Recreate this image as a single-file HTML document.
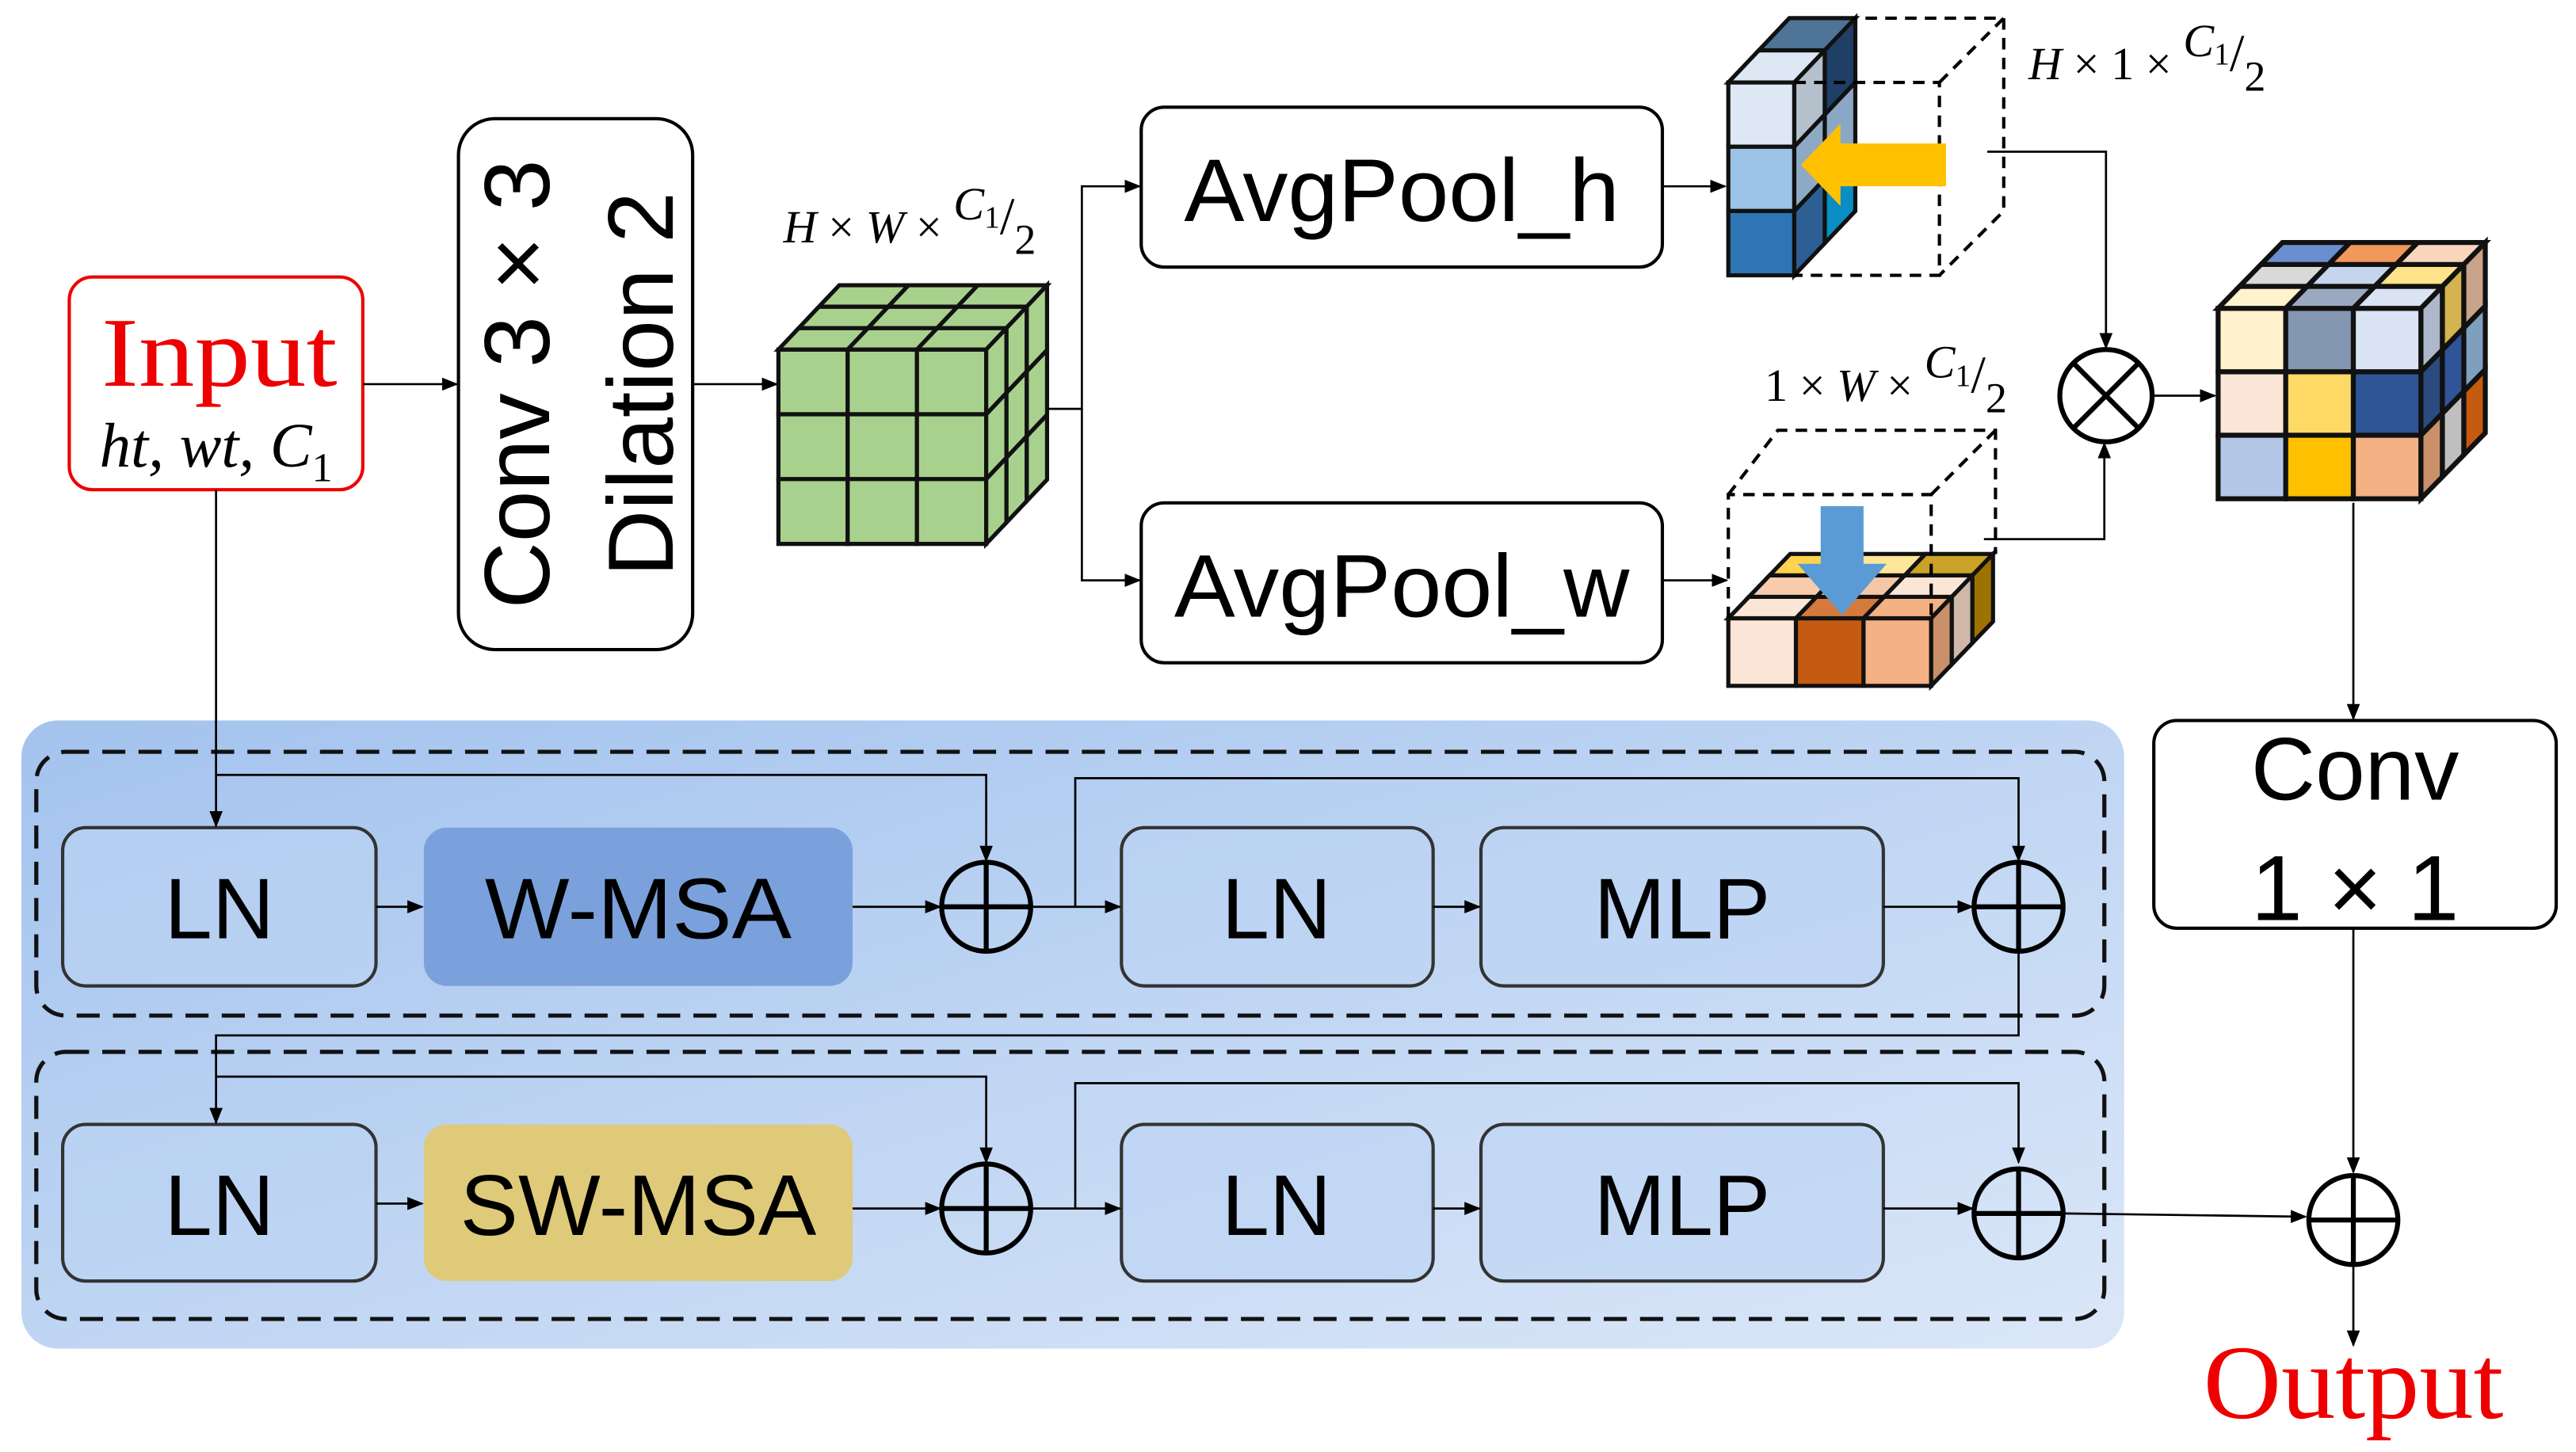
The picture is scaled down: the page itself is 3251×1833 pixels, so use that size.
<!DOCTYPE html>
<html><head><meta charset="utf-8"><style>
html,body{margin:0;padding:0;background:#fff}
svg{display:block}
.t{font-family:"Liberation Sans",sans-serif;fill:#000}
.m{font-family:"Liberation Serif",serif;fill:#000}
</style></head><body>
<svg id="s" width="3251" height="1833" viewBox="0 0 1562 880.7" xmlns="http://www.w3.org/2000/svg">
<defs>
<linearGradient id="pg" x1="0" y1="0" x2="1" y2="1">
<stop offset="0" stop-color="#a3c3ee"/><stop offset="1" stop-color="#dbe7f8"/>
</linearGradient>
<marker id="a" markerWidth="10" markerHeight="10" refX="9" refY="5" orient="auto" markerUnits="userSpaceOnUse">
<path d="M0,1 L10,5 L0,9 z" fill="#000"/></marker>
</defs>
<rect x="13" y="437" width="1275" height="381" rx="22" fill="url(#pg)"/>
<rect x="22" y="456" width="1254" height="160" rx="18" fill="none" stroke="#111" stroke-width="2.5" stroke-dasharray="14,8"/>
<rect x="22" y="638" width="1254" height="162" rx="18" fill="none" stroke="#111" stroke-width="2.5" stroke-dasharray="14,8"/>

<g stroke="#333" stroke-width="2" fill="#bcd3f3" fill-opacity="0.6">
<rect x="38" y="502" width="190" height="96" rx="14"/>
<rect x="680" y="502" width="189" height="96" rx="14"/>
<rect x="898" y="502" width="244" height="96" rx="14"/>
<rect x="38" y="682" width="190" height="95" rx="14"/>
<rect x="680" y="682" width="189" height="95" rx="14"/>
<rect x="898" y="682" width="244" height="95" rx="14"/>
</g>
<rect x="257" y="502" width="260" height="96" rx="14" fill="#7ba1dc"/>
<rect x="257" y="682" width="260" height="95" rx="14" fill="#dfca7a"/>
<g class="t" font-size="52" text-anchor="middle">
<text x="133" y="569">LN</text><text x="387" y="569" textLength="186" lengthAdjust="spacingAndGlyphs">W-MSA</text>
<text x="774" y="569">LN</text><text x="1020" y="569">MLP</text>
<text x="133" y="749">LN</text><text x="387" y="749" textLength="216" lengthAdjust="spacingAndGlyphs">SW-MSA</text>
<text x="774" y="749">LN</text><text x="1020" y="749">MLP</text>
</g>

<rect x="42" y="168" width="178" height="129" rx="14" fill="#fff" stroke="#e00" stroke-width="2"/>
<text class="m" x="133" y="234" font-size="60" text-anchor="middle" textLength="143" lengthAdjust="spacingAndGlyphs" style="fill:#e00">Input</text>
<text class="m" x="131" y="283" font-size="38" font-style="italic" text-anchor="middle">ht, wt, C<tspan font-style="normal" font-size="25" dy="9">1</tspan></text>

<rect x="278" y="72" width="142" height="322" rx="22" fill="#fff" stroke="#000" stroke-width="2"/>
<text class="t" font-size="56" text-anchor="middle" transform="translate(333,233) rotate(-90)">Conv 3 × 3</text>
<text class="t" font-size="56" text-anchor="middle" transform="translate(408,233) rotate(-90)">Dilation 2</text>

<rect x="692" y="65" width="316" height="97" rx="14" fill="#fff" stroke="#000" stroke-width="2"/>
<text class="t" x="850" y="134" font-size="54" text-anchor="middle" textLength="264" lengthAdjust="spacingAndGlyphs">AvgPool_h</text>
<rect x="692" y="305" width="316" height="97" rx="14" fill="#fff" stroke="#000" stroke-width="2"/>
<text class="t" x="850" y="374" font-size="54" text-anchor="middle" textLength="276" lengthAdjust="spacingAndGlyphs">AvgPool_w</text>

<rect x="1306" y="437" width="244" height="126" rx="14" fill="#fff" stroke="#000" stroke-width="2"/>
<text class="t" x="1428" y="485" font-size="54" text-anchor="middle">Conv</text>
<text class="t" x="1428" y="558" font-size="56" text-anchor="middle">1 × 1</text>

<text class="m" x="1427" y="860" font-size="64" text-anchor="middle" textLength="182" lengthAdjust="spacingAndGlyphs" style="fill:#e00">Output</text>

<text class="m" x="475" y="147" font-size="28" font-style="italic">H <tspan font-style="normal">×</tspan> W <tspan font-style="normal">×</tspan> <tspan dy="-14">C</tspan><tspan font-style="normal" font-size="19" dy="5">1</tspan><tspan font-style="normal" font-size="32" dy="4">/</tspan><tspan font-style="normal" font-size="26" dy="12">2</tspan></text>
<text class="m" x="1230" y="48" font-size="28" font-style="italic">H <tspan font-style="normal">× 1 ×</tspan> <tspan dy="-14">C</tspan><tspan font-style="normal" font-size="19" dy="5">1</tspan><tspan font-style="normal" font-size="32" dy="4">/</tspan><tspan font-style="normal" font-size="26" dy="12">2</tspan></text>
<text class="m" x="1070" y="243" font-size="28" font-style="italic"><tspan font-style="normal">1 ×</tspan> W <tspan font-style="normal">×</tspan> <tspan dy="-14">C</tspan><tspan font-style="normal" font-size="19" dy="5">1</tspan><tspan font-style="normal" font-size="32" dy="4">/</tspan><tspan font-style="normal" font-size="26" dy="12">2</tspan></text>

<g id="cubes"></g>

<g fill="none" stroke="#000" stroke-width="2" stroke-dasharray="7,5">
<path d="M1088,50 L1176,50 L1176,167 L1088,167 M1176,50 L1215,11 L1123,11 M1215,11 L1215,128 L1176,167"/>
<path d="M1048,375 L1048,300 L1171,300 L1171,375 M1048,300 L1078,261 L1210,261 L1210,336 M1171,300 L1210,261"/>
</g>
<path d="M1180,87 L1116,87 L1116,75 L1092,100 L1116,125 L1116,113 L1180,113 z" fill="#ffc000"/>
<path d="M1104,307 L1130,307 L1130,342 L1144,342 L1117,373 L1090,342 L1104,342 z" fill="#5b9bd5"/>

<g fill="none" stroke="#000" stroke-width="1.3">
<path d="M220,233 L277,233" marker-end="url(#a)"/>
<path d="M420,233 L471,233" marker-end="url(#a)"/>
<path d="M635,248 L656,248 L656,113 L691,113" marker-end="url(#a)"/>
<path d="M656,248 L656,352 L691,352" marker-end="url(#a)"/>
<path d="M1008,113 L1046,113" marker-end="url(#a)"/>
<path d="M1008,352 L1047,352" marker-end="url(#a)"/>
<path d="M1205,92 L1277,92 L1277,211" marker-end="url(#a)"/>
<path d="M1203,327 L1276,327 L1276,269" marker-end="url(#a)"/>
<path d="M1305,240 L1343,240" marker-end="url(#a)"/>
<path d="M1427,305 L1427,436" marker-end="url(#a)"/>
<path d="M1427,563 L1427,711" marker-end="url(#a)"/>
<path d="M1427,768 L1427,816" marker-end="url(#a)"/>
<path d="M131,297 L131,501" marker-end="url(#a)"/>
<path d="M131,470 L598,470 L598,522" marker-end="url(#a)"/>
<path d="M228,550 L256,550" marker-end="url(#a)"/>
<path d="M517,550 L570,550" marker-end="url(#a)"/>
<path d="M625,550 L679,550" marker-end="url(#a)"/>
<path d="M652,550 L652,472 L1224,472 L1224,522" marker-end="url(#a)"/>
<path d="M869,550 L897,550" marker-end="url(#a)"/>
<path d="M1142,550 L1196,550" marker-end="url(#a)"/>
<path d="M1224,577 L1224,628 L131,628 L131,681" marker-end="url(#a)"/>
<path d="M131,653 L598,653 L598,705" marker-end="url(#a)"/>
<path d="M228,730 L256,730" marker-end="url(#a)"/>
<path d="M517,733 L570,733" marker-end="url(#a)"/>
<path d="M625,733 L679,733" marker-end="url(#a)"/>
<path d="M652,733 L652,657 L1224,657 L1224,705" marker-end="url(#a)"/>
<path d="M869,733 L897,733" marker-end="url(#a)"/>
<path d="M1142,733 L1196,733" marker-end="url(#a)"/>
<path d="M1252,736 L1398,738" marker-end="url(#a)"/>
</g>
<g fill="#fff" stroke="#000" stroke-width="3">
<circle cx="1277" cy="240" r="28"/>
<path d="M1257,220 L1297,260 M1297,220 L1257,260"/>
<circle cx="598" cy="550" r="27" fill="none"/><path d="M571,550 L625,550 M598,523 L598,577"/>
<circle cx="1224" cy="550" r="27" fill="none"/><path d="M1197,550 L1251,550 M1224,523 L1224,577"/>
<circle cx="598" cy="733" r="27" fill="none"/><path d="M571,733 L625,733 M598,706 L598,760"/>
<circle cx="1224" cy="736" r="27" fill="none"/><path d="M1197,736 L1251,736 M1224,709 L1224,763"/>
<circle cx="1427" cy="740" r="27"/><path d="M1400,740 L1454,740 M1427,713 L1427,767"/>
</g>
</svg>
<script>
(function(){
var g=document.getElementById('cubes'),NS='http://www.w3.org/2000/svg';
function poly(pts,fill,sw){var p=document.createElementNS(NS,'polygon');p.setAttribute('points',pts.map(function(q){return q[0]+','+q[1]}).join(' '));p.setAttribute('fill',fill);p.setAttribute('stroke','#111');p.setAttribute('stroke-width',sw||3);g.appendChild(p);}
function cube(x0,y0,w,h,cols,rows,L,dx,dy,front,top,side,sw){
 var x1=x0+w*cols;
 for(var r=0;r<rows;r++)for(var c=0;c<cols;c++)poly([[x0+c*w,y0+r*h],[x0+(c+1)*w,y0+r*h],[x0+(c+1)*w,y0+(r+1)*h],[x0+c*w,y0+(r+1)*h]],front(r,c),sw);
 for(var k=0;k<L;k++)for(var c=0;c<cols;c++)poly([[x0+c*w+k*dx,y0+k*dy],[x0+(c+1)*w+k*dx,y0+k*dy],[x0+(c+1)*w+(k+1)*dx,y0+(k+1)*dy],[x0+c*w+(k+1)*dx,y0+(k+1)*dy]],top(k,c),sw);
 for(var k=0;k<L;k++)for(var r=0;r<rows;r++)poly([[x1+k*dx,y0+r*h+k*dy],[x1+(k+1)*dx,y0+r*h+(k+1)*dy],[x1+(k+1)*dx,y0+(r+1)*h+(k+1)*dy],[x1+k*dx,y0+(r+1)*h+k*dy]],side(k,r),sw);
}
cube(472,212,42,39.3,3,3,3,12.3,-13,function(){return '#a9d18e'},function(){return '#a9d18e'},function(){return '#a9d18e'},2.5);
var hf=['#dde8f4','#9dc3e6','#2e75b6'],ht=['#dde8f4','#4e7497','#2f4a7a'],hs=[['#b4c0cc','#8da9c4','#2e5f94'],['#1f3f66','#8aa8c6','#0a8cc4'],['#0b1f4a','#cfd2d6','#0090c8']];
cube(1048,50,40,39,1,3,2,18.5,-19.5,function(r){return hf[r]},function(k){return ht[k]},function(k,r){return hs[k][r]},2.5);
var wf=['#fbe5d6','#c55a11','#f4b183'],wt=[['#fbe5d6','#d47a3c','#f4b183'],['#f8cbad','#f4c7a8','#fbe5d6'],['#ffd34d','#ffe699','#c9a227']],ws=['#c9906a','#d0b8a8','#9c7300'];
cube(1048,375,41,41,3,1,3,12.5,-13,function(r,c){return wf[c]},function(k,c){return wt[k][c]},function(k){return ws[k]},2.5);
var cf=[['#fff2cc','#8497b0','#dae3f3'],['#fbe5d6','#ffd966','#2f5597'],['#b4c7e7','#ffc000','#f4b183']];
var ct=[['#fff2cc','#9aa9bf','#dae3f3'],['#d9d9d9','#c5d5ee','#ffe28a'],['#6a8fd0','#f0995a','#f8d5bc']];
var cs=[['#adb9ca','#2a4a80','#c9906a'],['#d4b350','#2f5597','#bfbfbf'],['#c9a48a','#7f9fbf','#c55a11']];
cube(1345,187,41,38.5,3,3,3,13,-13.3,function(r,c){return cf[r][c]},function(k,c){return ct[k][c]},function(k,r){return cs[k][r]},3);
})();
</script>
</body></html>
